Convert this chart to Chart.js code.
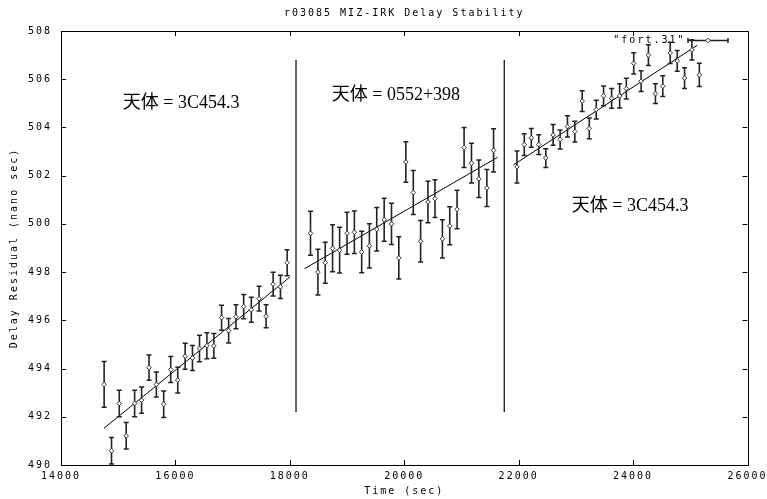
<!DOCTYPE html>
<html><head><meta charset="utf-8">
<script src="https://cdn.jsdelivr.net/npm/chart.js@4.4.0/dist/chart.umd.min.js"></script>
<style>html,body{margin:0;padding:0;background:#fff;}#wrap{width:767px;height:499px;}</style>
</head><body><div id="wrap"><canvas id="c" width="767" height="499"></canvas></div>
<script>
const chartTitle = 'r03085 MIZ-IRK Delay Stability';
const xAxisTitle = 'Time (sec)';
const yAxisTitle = 'Delay Residual (nano sec)';
const legendLabel = '"fort.31"';
const xTickValues = [14000, 16000, 18000, 20000, 22000, 24000, 26000];
const yTickValues = [490, 492, 494, 496, 498, 500, 502, 504, 506, 508];

// source 1: 3C454.3
const seg1Time  = [14754,14883,15018,15140,15287,15409,15538,15667,15795,15918,16041,16170,16298,16421,16550,16672,16807,16930,17058,17193,17327,17462,17585,17708,17836,17953];
const seg1Delay = [493.34,490.59,492.55,491.21,492.55,492.69,494.04,493.34,492.52,493.96,493.52,494.51,494.44,494.83,494.95,494.94,496.11,495.57,496.15,496.57,496.44,496.90,496.17,497.50,497.39,498.39];
const seg1Err   = [0.95,0.55,0.55,0.55,0.55,0.54,0.52,0.52,0.55,0.54,0.53,0.54,0.52,0.55,0.54,0.51,0.52,0.51,0.50,0.50,0.52,0.51,0.48,0.49,0.48,0.54];
// source 2: 0552+398
const seg2Time  = [18361,18491,18619,18747,18870,19000,19128,19256,19391,19519,19649,19777,19905,20028,20158,20286,20414,20537,20667,20795,20923,21046,21175,21304,21444,21561];
const seg2Delay = [499.61,498.00,498.39,498.99,498.91,499.61,499.65,498.83,499.09,499.78,500.17,500.00,498.59,502.57,501.30,499.28,500.91,501.05,499.38,499.92,500.60,503.17,502.52,501.87,501.49,503.05];
const seg2Err   = [0.91,0.95,0.85,0.97,0.95,0.87,0.88,0.86,0.92,0.90,0.89,0.86,0.88,0.84,0.91,0.86,0.86,0.78,0.79,0.79,0.80,0.83,0.82,0.78,0.77,0.90];
// source 3: 3C454.3
const seg3Time  = [21970,22098,22221,22351,22474,22602,22725,22853,22982,23111,23234,23356,23484,23625,23765,23882,24011,24140,24268,24391,24519,24649,24772,24900,25028,25158];
const seg3Delay = [502.36,503.29,503.57,503.29,502.73,503.69,503.50,504.04,503.83,505.09,503.96,504.74,505.31,505.21,505.31,505.61,506.66,505.92,507.00,505.40,505.71,507.09,506.76,506.05,507.22,506.18];
const seg3Err   = [0.66,0.45,0.39,0.41,0.39,0.43,0.39,0.44,0.43,0.43,0.43,0.39,0.41,0.41,0.50,0.43,0.44,0.43,0.43,0.41,0.43,0.44,0.43,0.43,0.42,0.48];

// fitted lines (start/end per source)
const fitStartTime  = [14749, 18256, 21905];
const fitStartDelay = [491.52, 498.14, 502.44];
const fitEndTime    = [17999, 21632, 25123];
const fitEndDelay   = [497.79, 502.76, 507.41];

// source change separators
const sepTime  = [18108, 21748];
const sepLow   = [492.2, 492.2];
const sepHigh  = [506.8, 506.8];

// source labels
const sourceLabels = ['天体 = 3C454.3', '天体 = 0552+398', '天体 = 3C454.3'];
const sourceLabelTime  = [15079, 18733, 22928];
const sourceLabelDelay = [505.02, 505.35, 500.75];

// ---- build datasets from the arrays ----
const segs = [[seg1Time, seg1Delay, seg1Err], [seg2Time, seg2Delay, seg2Err], [seg3Time, seg3Delay, seg3Err]];
const markers = [], caps = [], stems = [];
segs.forEach(([t, d, e]) => {
  t.forEach((x, i) => {
    markers.push({x, y: d[i]});
    caps.push({x, y: d[i] - e[i]}, {x, y: d[i] + e[i]});
    stems.push({x, y: d[i] - e[i]}, {x, y: d[i] + e[i]}, {x, y: null});
  });
});
const fits = [];
fitStartTime.forEach((x, i) => {
  fits.push({x, y: fitStartDelay[i]}, {x: fitEndTime[i], y: fitEndDelay[i]}, {x: fitEndTime[i], y: null});
});
const seps = [];
sepTime.forEach((x, i) => { seps.push({x, y: sepLow[i]}, {x, y: sepHigh[i]}, {x, y: null}); });

const MONO = '"DejaVu Sans Mono", monospace';
const SPACING = '2px';

const spacingPlugin = {
  id: 'spacing',
  beforeUpdate(c) { c.ctx.letterSpacing = SPACING; },
  beforeDraw(c) { c.ctx.letterSpacing = SPACING; }
};

const framePlugin = {
  id: 'frame',
  beforeDatasetsDraw(c) {
    const {ctx, chartArea: a, scales: {x, y}} = c;
    ctx.save();
    ctx.strokeStyle = '#000';
    ctx.lineWidth = 1;
    ctx.strokeRect(Math.round(a.left) + 0.5, Math.round(a.top) + 0.5, Math.round(a.right - a.left), Math.round(a.bottom - a.top));
    ctx.beginPath();
    const tl = 5;
    xTickValues.forEach(v => {
      const px = Math.round(x.getPixelForValue(v)) + 0.5;
      ctx.moveTo(px, a.bottom); ctx.lineTo(px, a.bottom - tl);
      ctx.moveTo(px, a.top); ctx.lineTo(px, a.top + tl);
    });
    yTickValues.forEach(v => {
      const py = Math.round(y.getPixelForValue(v)) + 0.5;
      ctx.moveTo(a.left, py); ctx.lineTo(a.left + tl, py);
      ctx.moveTo(a.right, py); ctx.lineTo(a.right - tl, py);
    });
    ctx.stroke();
    ctx.restore();
  }
};

const labelPlugin = {
  id: 'labels',
  afterDraw(c) {
    const {ctx, chartArea: a, scales: {x, y}} = c;
    ctx.save();
    // legend key
    ctx.letterSpacing = SPACING;
    ctx.font = '10px ' + MONO;
    ctx.fillStyle = '#000';
    ctx.textAlign = 'right';
    ctx.textBaseline = 'middle';
    const ly = a.top + 9.5;
    ctx.fillText(legendLabel, a.right - 62, ly);
    ctx.strokeStyle = '#222';
    ctx.lineWidth = 1.5;
    ctx.beginPath();
    ctx.moveTo(a.right - 59.5, ly); ctx.lineTo(a.right - 19.5, ly);
    ctx.moveTo(a.right - 59.5, ly - 2.5); ctx.lineTo(a.right - 59.5, ly + 2.5);
    ctx.moveTo(a.right - 19.5, ly - 2.5); ctx.lineTo(a.right - 19.5, ly + 2.5);
    ctx.stroke();
    const dx = a.right - 39.5;
    ctx.beginPath();
    ctx.moveTo(dx - 2.3, ly); ctx.lineTo(dx, ly - 2.3); ctx.lineTo(dx + 2.3, ly); ctx.lineTo(dx, ly + 2.3); ctx.closePath();
    ctx.fillStyle = '#fff'; ctx.fill();
    ctx.lineWidth = 1; ctx.strokeStyle = '#333'; ctx.stroke();
    // source labels
    ctx.letterSpacing = '0px';
    ctx.font = '18px "Liberation Serif", "Noto Sans CJK JP", serif';
    ctx.fillStyle = '#000';
    ctx.textAlign = 'left';
    sourceLabels.forEach((t, i) => {
      ctx.fillText(t, x.getPixelForValue(sourceLabelTime[i]), y.getPixelForValue(sourceLabelDelay[i]));
    });
    ctx.restore();
  }
};

function noPad(s) { s.paddingLeft = 0; s.paddingRight = 0; s.paddingTop = 0; s.paddingBottom = 0; }

Chart.defaults.font.family = MONO;
Chart.defaults.font.size = 10;
Chart.defaults.color = '#000';

new Chart(document.getElementById('c'), {
  type: 'scatter',
  data: {
    datasets: [
      {label: 'points', data: markers, pointStyle: 'rectRot', pointRadius: 2.3, borderColor: '#333', backgroundColor: '#fff', borderWidth: 1, order: 0},
      {label: 'caps', data: caps, pointStyle: 'line', pointRadius: 2.5, borderColor: '#222', borderWidth: 1.5, order: 1},
      {label: 'errors', data: stems, showLine: true, spanGaps: false, pointRadius: 0, borderColor: '#222', borderWidth: 1.6, order: 2},
      {label: 'fit', data: fits, showLine: true, spanGaps: false, pointRadius: 0, borderColor: '#000', borderWidth: 1, order: 3},
      {label: 'sep', data: seps, showLine: true, spanGaps: false, pointRadius: 0, borderColor: '#000', borderWidth: 1.2, order: 4}
    ]
  },
  options: {
    responsive: false,
    animation: false,
    devicePixelRatio: 1,
    events: [],
    layout: {padding: {left: 0, right: 19.5, top: 0, bottom: 0}},
    plugins: {
      legend: {display: false},
      tooltip: {enabled: false},
      title: {
        display: true, text: chartTitle, fullSize: false,
        font: {family: MONO, size: 10, weight: 'normal', lineHeight: 1.2},
        color: '#000', padding: {top: 7, bottom: 12}
      }
    },
    scales: {
      x: {
        type: 'linear', min: 14000, max: 26000,
        afterFit(s) { s.height = 34; noPad(s); },
        afterBuildTicks(s) { s.ticks = xTickValues.map(v => ({value: v})); },
        grid: {display: false, drawTicks: false, tickLength: 0}, border: {display: false},
        ticks: {padding: 5, maxRotation: 0, color: '#000', callback: v => String(v)},
        title: {display: true, text: xAxisTitle, color: '#000', font: {size: 10, lineHeight: 1.2}, padding: {top: 0, bottom: 2}}
      },
      y: {
        type: 'linear', min: 490, max: 508,
        afterFit(s) { s.width = 61; noPad(s); },
        afterBuildTicks(s) { s.ticks = yTickValues.map(v => ({value: v})); },
        grid: {display: false, drawTicks: false, tickLength: 0}, border: {display: false},
        ticks: {padding: 9, color: '#000', callback: v => String(v)},
        title: {display: true, text: yAxisTitle, color: '#000', font: {size: 10, lineHeight: 1.2}, padding: {top: 8, bottom: 0}}
      }
    }
  },
  plugins: [spacingPlugin, framePlugin, labelPlugin]
});
</script>
</body></html>
